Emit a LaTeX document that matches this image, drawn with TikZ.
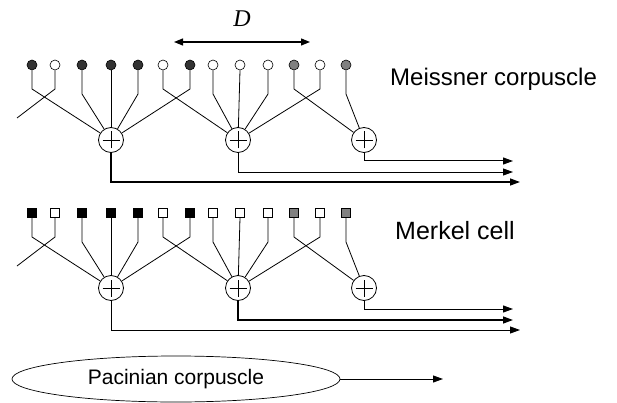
\documentclass[tikz,border=0pt]{standalone}
\usepackage{fontspec}
\setmainfont{Liberation Sans}
\newfontfamily\dfont{Liberation Serif}
\usetikzlibrary{arrows.meta,shapes.geometric}
\definecolor{dk}{gray}{0.2}
\definecolor{bk}{gray}{0.0}
\definecolor{wt}{gray}{1.0}
\definecolor{gy}{gray}{0.5}
\tikzset{
  wire/.style={line width=0.8pt},
  sumnode/.style={circle,draw,line width=0.8pt,minimum size=25pt,inner sep=0pt,fill=white},
  circrec/.style={circle,draw,line width=0.6pt,minimum size=10pt,inner sep=0pt},
  sqrec/.style={rectangle,draw,line width=0.6pt,minimum size=9pt,inner sep=0pt},
  outarrow/.style={line width=1pt,-{Triangle[length=10pt,width=7pt]}},
  lbl/.style={font=\fontsize{24}{28}\selectfont, anchor=base west, inner sep=0pt},
}
\newcommand{\plussign}[1]{%
  \draw[line width=0.8pt] ([xshift=-8.5pt]#1.center) -- ([xshift=8.5pt]#1.center);
  \draw[line width=0.8pt] ([yshift=-8.5pt]#1.center) -- ([yshift=8.5pt]#1.center);}
% #1 prefix, #2 y offset, #3 receptor style, #4 dark colour, #5/#6/#7 widths of outputs 1/2/3
\newcommand{\tactrow}[7]{%
  \node[sumnode] (#1S1) at (111,{#2+140}) {};
  \node[sumnode] (#1S2) at (238,{#2+140}) {};
  \node[sumnode] (#1S3) at (364,{#2+140}) {};
  \plussign{#1S1}\plussign{#1S2}\plussign{#1S3}
  \coordinate (#1F) at (17,{#2+118});
  \foreach \i/\x/\c/\b/\t in {1/32/#4/24/S1, 2/55/wt/24/F, 3/82/#4/29/S1, 4/111/#4/0/S1,
      5/138/#4/29/S1, 6/163/wt/24/S2, 7/190/#4/24/S1, 8/213/wt/29/S2, 9/240/wt/0/S2,
      10/268/wt/29/S2, 11/294/gy/24/S3, 12/320/wt/24/S2, 13/346/gy/29/S3}{
    \node[#3,fill=\c] (#1r\i) at (\x,{#2+65}) {};
    \ifnum\b=0
      \draw[wire] (#1r\i.south) -- (#1\t);
    \else
      \draw[wire] (#1r\i.south) -- (\x,{#2+65+\b}) -- (#1\t);
    \fi
  }
  \coordinate (#1o3) at (513,{#2+161});
  \coordinate (#1o2) at (513,{#2+172});
  \coordinate (#1o1) at (520,{#2+182});
  \draw[outarrow,line width=#7] (#1S3.south) |- (#1o3);
  \draw[outarrow,line width=#6] (#1S2.south) |- (#1o2);
  \draw[outarrow,line width=#5] (#1S1.south) |- (#1o1);
}
\begin{document}
\begin{tikzpicture}[x=1pt,y=-1pt]
  \useasboundingbox (0,0) rectangle (617,403);
  % distance D
  \coordinate (dl) at (174,42);
  \coordinate (dr) at (310,42);
  \draw[line width=1.2pt,{Triangle[length=9pt,width=7pt]}-{Triangle[length=9pt,width=7pt]}] (dl) -- (dr);
  \node[font=\dfont\itshape\fontsize{24}{28}\selectfont, anchor=base, inner sep=0pt] (dlab) at (242,27) {D};
  % Meissner
  \tactrow{m}{0}{circrec}{dk}{1.4pt}{0.9pt}{1pt}
  \node[lbl] (mlab) at (390,86) {Meissner corpuscle};
  % Merkel
  \tactrow{k}{148}{sqrec}{bk}{0.9pt}{1.4pt}{1pt}
  \node[lbl,font=\fontsize{25}{29}\selectfont] (klab) at (395,239) {Merkel cell};
  % Pacinian
  \node[ellipse,draw,line width=0.7pt,minimum width=328pt,minimum height=46pt,inner sep=0pt,
        font=\fontsize{21}{25}\selectfont] (pac) at (176,379) {Pacinian corpuscle};
  \coordinate (pout) at (443,379);
  \draw[outarrow] (pac.east) -- (pout);
\end{tikzpicture}
\end{document}
